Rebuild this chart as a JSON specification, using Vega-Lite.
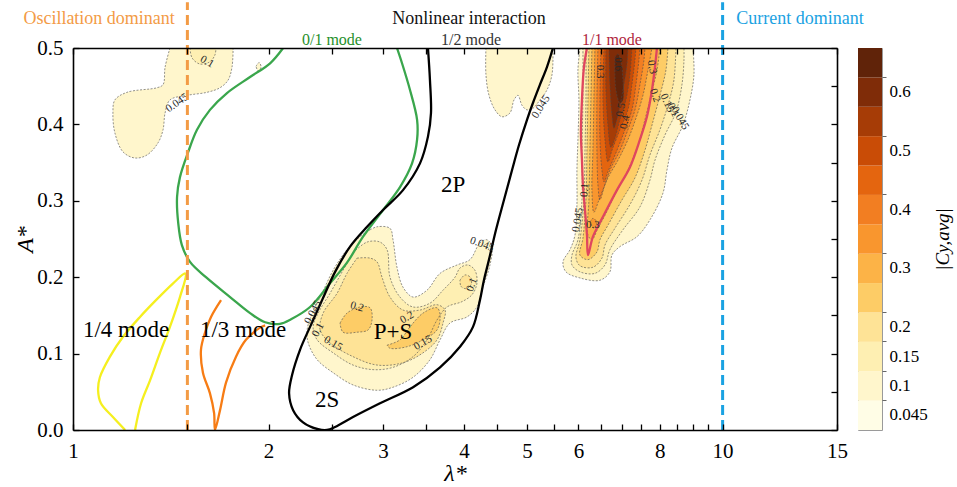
{
  "$schema": "https://vega.github.io/schema/vega-lite/v6.json",
  "padding": {"left": 13, "top": 0, "right": 2, "bottom": 2},
  "background": "white",
  "config": {
    "font": "Liberation Serif",
    "view": {"stroke": null},
    "axis": {"grid": false, "labelFont": "Liberation Serif", "titleFont": "Liberation Serif", "labelColor": "#000", "titleColor": "#000", "tickColor": "#000", "domainColor": "#000", "titleFontWeight": "normal"},
    "text": {"font": "Liberation Serif"}
  },
  "datasets": {
    "contours": [
      {"g":"tl1","lv":0.045,"x":1.410,"y":0.5},{"g":"tl1","lv":0.045,"x":1.386,"y":0.475},{"g":"tl1","lv":0.045,"x":1.376,"y":0.452},{"g":"tl1","lv":0.045,"x":1.347,"y":0.448},{"g":"tl1","lv":0.045,"x":1.211,"y":0.442},{"g":"tl1","lv":0.045,"x":1.160,"y":0.432},{"g":"tl1","lv":0.045,"x":1.152,"y":0.415},{"g":"tl1","lv":0.045,"x":1.160,"y":0.389},{"g":"tl1","lv":0.045,"x":1.194,"y":0.364},{"g":"tl1","lv":0.045,"x":1.246,"y":0.356},{"g":"tl1","lv":0.045,"x":1.300,"y":0.360},{"g":"tl1","lv":0.045,"x":1.352,"y":0.376},{"g":"tl1","lv":0.045,"x":1.376,"y":0.393},{"g":"tl1","lv":0.045,"x":1.386,"y":0.415},{"g":"tl1","lv":0.045,"x":1.410,"y":0.432},{"g":"tl1","lv":0.045,"x":1.498,"y":0.438},{"g":"tl1","lv":0.045,"x":1.608,"y":0.442},{"g":"tl1","lv":0.045,"x":1.684,"y":0.448},{"g":"tl1","lv":0.045,"x":1.733,"y":0.458},{"g":"tl1","lv":0.045,"x":1.757,"y":0.475},{"g":"tl1","lv":0.045,"x":1.764,"y":0.5},
      {"g":"tlb","lv":0.045,"x":1.913,"y":0.476},{"g":"tlb","lv":0.045,"x":1.934,"y":0.481},{"g":"tlb","lv":0.045,"x":1.948,"y":0.475},{"g":"tlb","lv":0.045,"x":1.927,"y":0.470},{"g":"tlb","lv":0.045,"x":1.913,"y":0.476},
      {"g":"mb1","lv":0.045,"x":4.322,"y":0.5},{"g":"mb1","lv":0.045,"x":4.322,"y":0.465},{"g":"mb1","lv":0.045,"x":4.369,"y":0.438},{"g":"mb1","lv":0.045,"x":4.463,"y":0.419},{"g":"mb1","lv":0.045,"x":4.575,"y":0.410},{"g":"mb1","lv":0.045,"x":4.706,"y":0.415},{"g":"mb1","lv":0.045,"x":4.774,"y":0.432},{"g":"mb1","lv":0.045,"x":4.842,"y":0.438},{"g":"mb1","lv":0.045,"x":4.911,"y":0.425},{"g":"mb1","lv":0.045,"x":4.999,"y":0.419},{"g":"mb1","lv":0.045,"x":5.105,"y":0.421},{"g":"mb1","lv":0.045,"x":5.234,"y":0.432},{"g":"mb1","lv":0.045,"x":5.365,"y":0.445},{"g":"mb1","lv":0.045,"x":5.462,"y":0.465},{"g":"mb1","lv":0.045,"x":5.481,"y":0.5},
      {"g":"ps1","lv":0.045,"x":2.866,"y":0.262},{"g":"ps1","lv":0.045,"x":2.938,"y":0.266},{"g":"ps1","lv":0.045,"x":3.076,"y":0.264},{"g":"ps1","lv":0.045,"x":3.109,"y":0.249},{"g":"ps1","lv":0.045,"x":3.153,"y":0.213},{"g":"ps1","lv":0.045,"x":3.221,"y":0.187},{"g":"ps1","lv":0.045,"x":3.338,"y":0.174},{"g":"ps1","lv":0.045,"x":3.507,"y":0.183},{"g":"ps1","lv":0.045,"x":3.673,"y":0.205},{"g":"ps1","lv":0.045,"x":3.901,"y":0.216},{"g":"ps1","lv":0.045,"x":4.084,"y":0.223},{"g":"ps1","lv":0.045,"x":4.231,"y":0.245},{"g":"ps1","lv":0.045,"x":4.338,"y":0.249},{"g":"ps1","lv":0.045,"x":4.415,"y":0.240},{"g":"ps1","lv":0.045,"x":4.384,"y":0.216},{"g":"ps1","lv":0.045,"x":4.276,"y":0.187},{"g":"ps1","lv":0.045,"x":4.186,"y":0.161},{"g":"ps1","lv":0.045,"x":4.041,"y":0.148},{"g":"ps1","lv":0.045,"x":3.805,"y":0.140},{"g":"ps1","lv":0.045,"x":3.673,"y":0.118},{"g":"ps1","lv":0.045,"x":3.544,"y":0.092},{"g":"ps1","lv":0.045,"x":3.338,"y":0.069},{"g":"ps1","lv":0.045,"x":3.109,"y":0.056},{"g":"ps1","lv":0.045,"x":2.938,"y":0.052},{"g":"ps1","lv":0.045,"x":2.698,"y":0.059},{"g":"ps1","lv":0.045,"x":2.514,"y":0.075},{"g":"ps1","lv":0.045,"x":2.376,"y":0.092},{"g":"ps1","lv":0.045,"x":2.302,"y":0.114},{"g":"ps1","lv":0.045,"x":2.293,"y":0.131},{"g":"ps1","lv":0.045,"x":2.334,"y":0.153},{"g":"ps1","lv":0.045,"x":2.418,"y":0.179},{"g":"ps1","lv":0.045,"x":2.514,"y":0.209},{"g":"ps1","lv":0.045,"x":2.641,"y":0.236},{"g":"ps1","lv":0.045,"x":2.766,"y":0.253},{"g":"ps1","lv":0.045,"x":2.866,"y":0.262},
      {"g":"rb1","lv":0.045,"x":6.031,"y":0.5},{"g":"rb1","lv":0.045,"x":5.988,"y":0.471},{"g":"rb1","lv":0.045,"x":6.009,"y":0.432},{"g":"rb1","lv":0.045,"x":5.988,"y":0.380},{"g":"rb1","lv":0.045,"x":5.967,"y":0.340},{"g":"rb1","lv":0.045,"x":5.967,"y":0.295},{"g":"rb1","lv":0.045,"x":5.925,"y":0.255},{"g":"rb1","lv":0.045,"x":5.821,"y":0.236},{"g":"rb1","lv":0.045,"x":5.679,"y":0.220},{"g":"rb1","lv":0.045,"x":5.739,"y":0.207},{"g":"rb1","lv":0.045,"x":6.031,"y":0.199},{"g":"rb1","lv":0.045,"x":6.474,"y":0.196},{"g":"rb1","lv":0.045,"x":6.707,"y":0.207},{"g":"rb1","lv":0.045,"x":6.755,"y":0.229},{"g":"rb1","lv":0.045,"x":6.949,"y":0.240},{"g":"rb1","lv":0.045,"x":7.381,"y":0.253},{"g":"rb1","lv":0.045,"x":7.729,"y":0.275},{"g":"rb1","lv":0.045,"x":8.094,"y":0.310},{"g":"rb1","lv":0.045,"x":8.209,"y":0.340},{"g":"rb1","lv":0.045,"x":8.356,"y":0.369},{"g":"rb1","lv":0.045,"x":8.689,"y":0.399},{"g":"rb1","lv":0.045,"x":8.907,"y":0.432},{"g":"rb1","lv":0.045,"x":9.034,"y":0.465},{"g":"rb1","lv":0.045,"x":9.002,"y":0.5},
      {"g":"tl2","lv":0.1,"x":1.514,"y":0.5},{"g":"tl2","lv":0.1,"x":1.525,"y":0.487},{"g":"tl2","lv":0.1,"x":1.568,"y":0.479},{"g":"tl2","lv":0.1,"x":1.625,"y":0.482},{"g":"tl2","lv":0.1,"x":1.654,"y":0.491},{"g":"tl2","lv":0.1,"x":1.660,"y":0.5},
      {"g":"ps2","lv":0.1,"x":2.698,"y":0.232},{"g":"ps2","lv":0.1,"x":2.836,"y":0.246},{"g":"ps2","lv":0.1,"x":2.969,"y":0.246},{"g":"ps2","lv":0.1,"x":3.044,"y":0.236},{"g":"ps2","lv":0.1,"x":3.076,"y":0.200},{"g":"ps2","lv":0.1,"x":3.187,"y":0.174},{"g":"ps2","lv":0.1,"x":3.338,"y":0.161},{"g":"ps2","lv":0.1,"x":3.544,"y":0.166},{"g":"ps2","lv":0.1,"x":3.712,"y":0.183},{"g":"ps2","lv":0.1,"x":3.873,"y":0.200},{"g":"ps2","lv":0.1,"x":3.942,"y":0.212},{"g":"ps2","lv":0.1,"x":4.055,"y":0.216},{"g":"ps2","lv":0.1,"x":4.157,"y":0.209},{"g":"ps2","lv":0.1,"x":4.186,"y":0.192},{"g":"ps2","lv":0.1,"x":4.113,"y":0.177},{"g":"ps2","lv":0.1,"x":3.970,"y":0.168},{"g":"ps2","lv":0.1,"x":3.765,"y":0.161},{"g":"ps2","lv":0.1,"x":3.634,"y":0.144},{"g":"ps2","lv":0.1,"x":3.507,"y":0.118},{"g":"ps2","lv":0.1,"x":3.338,"y":0.096},{"g":"ps2","lv":0.1,"x":3.109,"y":0.082},{"g":"ps2","lv":0.1,"x":2.897,"y":0.079},{"g":"ps2","lv":0.1,"x":2.698,"y":0.085},{"g":"ps2","lv":0.1,"x":2.514,"y":0.101},{"g":"ps2","lv":0.1,"x":2.376,"y":0.118},{"g":"ps2","lv":0.1,"x":2.342,"y":0.135},{"g":"ps2","lv":0.1,"x":2.384,"y":0.153},{"g":"ps2","lv":0.1,"x":2.487,"y":0.179},{"g":"ps2","lv":0.1,"x":2.604,"y":0.209},{"g":"ps2","lv":0.1,"x":2.698,"y":0.232},
      {"g":"rb2","lv":0.1,"x":6.095,"y":0.5},{"g":"rb2","lv":0.1,"x":6.095,"y":0.432},{"g":"rb2","lv":0.1,"x":6.074,"y":0.366},{"g":"rb2","lv":0.1,"x":6.074,"y":0.301},{"g":"rb2","lv":0.1,"x":5.988,"y":0.249},{"g":"rb2","lv":0.1,"x":5.863,"y":0.229},{"g":"rb2","lv":0.1,"x":5.863,"y":0.216},{"g":"rb2","lv":0.1,"x":6.031,"y":0.207},{"g":"rb2","lv":0.1,"x":6.360,"y":0.205},{"g":"rb2","lv":0.1,"x":6.590,"y":0.216},{"g":"rb2","lv":0.1,"x":6.707,"y":0.236},{"g":"rb2","lv":0.1,"x":7.024,"y":0.262},{"g":"rb2","lv":0.1,"x":7.460,"y":0.292},{"g":"rb2","lv":0.1,"x":7.729,"y":0.327},{"g":"rb2","lv":0.1,"x":7.868,"y":0.353},{"g":"rb2","lv":0.1,"x":8.151,"y":0.386},{"g":"rb2","lv":0.1,"x":8.475,"y":0.416},{"g":"rb2","lv":0.1,"x":8.658,"y":0.452},{"g":"rb2","lv":0.1,"x":8.720,"y":0.484},{"g":"rb2","lv":0.1,"x":8.720,"y":0.5},
      {"g":"ps3","lv":0.15,"x":2.737,"y":0.225},{"g":"ps3","lv":0.15,"x":2.866,"y":0.225},{"g":"ps3","lv":0.15,"x":2.938,"y":0.220},{"g":"ps3","lv":0.15,"x":2.990,"y":0.200},{"g":"ps3","lv":0.15,"x":3.076,"y":0.174},{"g":"ps3","lv":0.15,"x":3.221,"y":0.157},{"g":"ps3","lv":0.15,"x":3.421,"y":0.157},{"g":"ps3","lv":0.15,"x":3.634,"y":0.164},{"g":"ps3","lv":0.15,"x":3.739,"y":0.157},{"g":"ps3","lv":0.15,"x":3.712,"y":0.140},{"g":"ps3","lv":0.15,"x":3.634,"y":0.118},{"g":"ps3","lv":0.15,"x":3.458,"y":0.101},{"g":"ps3","lv":0.15,"x":3.221,"y":0.088},{"g":"ps3","lv":0.15,"x":2.938,"y":0.085},{"g":"ps3","lv":0.15,"x":2.698,"y":0.096},{"g":"ps3","lv":0.15,"x":2.487,"y":0.114},{"g":"ps3","lv":0.15,"x":2.401,"y":0.131},{"g":"ps3","lv":0.15,"x":2.427,"y":0.153},{"g":"ps3","lv":0.15,"x":2.550,"y":0.179},{"g":"ps3","lv":0.15,"x":2.641,"y":0.205},{"g":"ps3","lv":0.15,"x":2.737,"y":0.225},
      {"g":"ps3b","lv":0.15,"x":3.942,"y":0.196},{"g":"ps3b","lv":0.15,"x":4.013,"y":0.203},{"g":"ps3b","lv":0.15,"x":4.099,"y":0.199},{"g":"ps3b","lv":0.15,"x":4.099,"y":0.190},{"g":"ps3b","lv":0.15,"x":4.027,"y":0.185},{"g":"ps3b","lv":0.15,"x":3.956,"y":0.188},{"g":"ps3b","lv":0.15,"x":3.942,"y":0.196},
      {"g":"rb3","lv":0.15,"x":6.161,"y":0.5},{"g":"rb3","lv":0.15,"x":6.161,"y":0.432},{"g":"rb3","lv":0.15,"x":6.139,"y":0.366},{"g":"rb3","lv":0.15,"x":6.117,"y":0.301},{"g":"rb3","lv":0.15,"x":6.031,"y":0.249},{"g":"rb3","lv":0.15,"x":5.946,"y":0.226},{"g":"rb3","lv":0.15,"x":6.031,"y":0.215},{"g":"rb3","lv":0.15,"x":6.315,"y":0.213},{"g":"rb3","lv":0.15,"x":6.520,"y":0.225},{"g":"rb3","lv":0.15,"x":6.590,"y":0.242},{"g":"rb3","lv":0.15,"x":6.827,"y":0.264},{"g":"rb3","lv":0.15,"x":7.200,"y":0.295},{"g":"rb3","lv":0.15,"x":7.513,"y":0.327},{"g":"rb3","lv":0.15,"x":7.729,"y":0.360},{"g":"rb3","lv":0.15,"x":8.008,"y":0.393},{"g":"rb3","lv":0.15,"x":8.238,"y":0.425},{"g":"rb3","lv":0.15,"x":8.415,"y":0.458},{"g":"rb3","lv":0.15,"x":8.475,"y":0.5},
      {"g":"ps4a","lv":0.2,"x":2.577,"y":0.140},{"g":"ps4a","lv":0.2,"x":2.641,"y":0.153},{"g":"ps4a","lv":0.2,"x":2.766,"y":0.161},{"g":"ps4a","lv":0.2,"x":2.866,"y":0.160},{"g":"ps4a","lv":0.2,"x":2.886,"y":0.144},{"g":"ps4a","lv":0.2,"x":2.846,"y":0.131},{"g":"ps4a","lv":0.2,"x":2.737,"y":0.128},{"g":"ps4a","lv":0.2,"x":2.604,"y":0.128},{"g":"ps4a","lv":0.2,"x":2.577,"y":0.140},
      {"g":"ps4b","lv":0.2,"x":3.044,"y":0.111},{"g":"ps4b","lv":0.2,"x":3.187,"y":0.118},{"g":"ps4b","lv":0.2,"x":3.302,"y":0.135},{"g":"ps4b","lv":0.2,"x":3.458,"y":0.153},{"g":"ps4b","lv":0.2,"x":3.634,"y":0.160},{"g":"ps4b","lv":0.2,"x":3.673,"y":0.151},{"g":"ps4b","lv":0.2,"x":3.634,"y":0.131},{"g":"ps4b","lv":0.2,"x":3.458,"y":0.118},{"g":"ps4b","lv":0.2,"x":3.267,"y":0.109},{"g":"ps4b","lv":0.2,"x":3.076,"y":0.107},{"g":"ps4b","lv":0.2,"x":3.044,"y":0.111},
      {"g":"rb4","lv":0.2,"x":6.226,"y":0.5},{"g":"rb4","lv":0.2,"x":6.205,"y":0.432},{"g":"rb4","lv":0.2,"x":6.183,"y":0.366},{"g":"rb4","lv":0.2,"x":6.161,"y":0.301},{"g":"rb4","lv":0.2,"x":6.095,"y":0.251},{"g":"rb4","lv":0.2,"x":6.031,"y":0.229},{"g":"rb4","lv":0.2,"x":6.205,"y":0.223},{"g":"rb4","lv":0.2,"x":6.405,"y":0.233},{"g":"rb4","lv":0.2,"x":6.474,"y":0.249},{"g":"rb4","lv":0.2,"x":6.660,"y":0.268},{"g":"rb4","lv":0.2,"x":6.999,"y":0.301},{"g":"rb4","lv":0.2,"x":7.329,"y":0.330},{"g":"rb4","lv":0.2,"x":7.593,"y":0.366},{"g":"rb4","lv":0.2,"x":7.785,"y":0.399},{"g":"rb4","lv":0.2,"x":8.008,"y":0.438},{"g":"rb4","lv":0.2,"x":8.180,"y":0.471},{"g":"rb4","lv":0.2,"x":8.238,"y":0.5},
      {"g":"rb5","lv":0.25,"x":6.293,"y":0.5},{"g":"rb5","lv":0.25,"x":6.270,"y":0.432},{"g":"rb5","lv":0.25,"x":6.248,"y":0.366},{"g":"rb5","lv":0.25,"x":6.226,"y":0.301},{"g":"rb5","lv":0.25,"x":6.205,"y":0.255},{"g":"rb5","lv":0.25,"x":6.293,"y":0.249},{"g":"rb5","lv":0.25,"x":6.428,"y":0.264},{"g":"rb5","lv":0.25,"x":6.590,"y":0.281},{"g":"rb5","lv":0.25,"x":6.827,"y":0.308},{"g":"rb5","lv":0.25,"x":7.149,"y":0.340},{"g":"rb5","lv":0.25,"x":7.407,"y":0.373},{"g":"rb5","lv":0.25,"x":7.593,"y":0.406},{"g":"rb5","lv":0.25,"x":7.757,"y":0.438},{"g":"rb5","lv":0.25,"x":7.924,"y":0.471},{"g":"rb5","lv":0.25,"x":8.008,"y":0.5},
      {"g":"rb6","lv":0.3,"x":6.360,"y":0.5},{"g":"rb6","lv":0.3,"x":6.337,"y":0.432},{"g":"rb6","lv":0.3,"x":6.315,"y":0.366},{"g":"rb6","lv":0.3,"x":6.293,"y":0.314},{"g":"rb6","lv":0.3,"x":6.337,"y":0.285},{"g":"rb6","lv":0.3,"x":6.451,"y":0.301},{"g":"rb6","lv":0.3,"x":6.660,"y":0.330},{"g":"rb6","lv":0.3,"x":6.900,"y":0.353},{"g":"rb6","lv":0.3,"x":7.149,"y":0.380},{"g":"rb6","lv":0.3,"x":7.355,"y":0.408},{"g":"rb6","lv":0.3,"x":7.540,"y":0.438},{"g":"rb6","lv":0.3,"x":7.675,"y":0.471},{"g":"rb6","lv":0.3,"x":7.785,"y":0.5},
      {"g":"rb6b","lv":0.3,"x":6.248,"y":0.272},{"g":"rb6b","lv":0.3,"x":6.315,"y":0.277},{"g":"rb6b","lv":0.3,"x":6.405,"y":0.272},{"g":"rb6b","lv":0.3,"x":6.337,"y":0.264},{"g":"rb6b","lv":0.3,"x":6.248,"y":0.272},
      {"g":"rb7","lv":0.35,"x":6.428,"y":0.5},{"g":"rb7","lv":0.35,"x":6.405,"y":0.432},{"g":"rb7","lv":0.35,"x":6.405,"y":0.366},{"g":"rb7","lv":0.35,"x":6.428,"y":0.321},{"g":"rb7","lv":0.35,"x":6.474,"y":0.301},{"g":"rb7","lv":0.35,"x":6.567,"y":0.317},{"g":"rb7","lv":0.35,"x":6.707,"y":0.340},{"g":"rb7","lv":0.35,"x":6.949,"y":0.366},{"g":"rb7","lv":0.35,"x":7.149,"y":0.393},{"g":"rb7","lv":0.35,"x":7.329,"y":0.419},{"g":"rb7","lv":0.35,"x":7.460,"y":0.452},{"g":"rb7","lv":0.35,"x":7.566,"y":0.484},{"g":"rb7","lv":0.35,"x":7.593,"y":0.5},
      {"g":"rb8","lv":0.4,"x":6.497,"y":0.5},{"g":"rb8","lv":0.4,"x":6.474,"y":0.432},{"g":"rb8","lv":0.4,"x":6.474,"y":0.380},{"g":"rb8","lv":0.4,"x":6.520,"y":0.340},{"g":"rb8","lv":0.4,"x":6.567,"y":0.325},{"g":"rb8","lv":0.4,"x":6.660,"y":0.338},{"g":"rb8","lv":0.4,"x":6.876,"y":0.366},{"g":"rb8","lv":0.4,"x":7.074,"y":0.393},{"g":"rb8","lv":0.4,"x":7.251,"y":0.419},{"g":"rb8","lv":0.4,"x":7.355,"y":0.452},{"g":"rb8","lv":0.4,"x":7.433,"y":0.484},{"g":"rb8","lv":0.4,"x":7.460,"y":0.5},
      {"g":"rb9","lv":0.45,"x":6.567,"y":0.5},{"g":"rb9","lv":0.45,"x":6.543,"y":0.432},{"g":"rb9","lv":0.45,"x":6.590,"y":0.380},{"g":"rb9","lv":0.45,"x":6.660,"y":0.351},{"g":"rb9","lv":0.45,"x":6.755,"y":0.366},{"g":"rb9","lv":0.45,"x":6.949,"y":0.393},{"g":"rb9","lv":0.45,"x":7.149,"y":0.419},{"g":"rb9","lv":0.45,"x":7.251,"y":0.452},{"g":"rb9","lv":0.45,"x":7.329,"y":0.484},{"g":"rb9","lv":0.45,"x":7.355,"y":0.5},
      {"g":"rb10","lv":0.5,"x":6.613,"y":0.5},{"g":"rb10","lv":0.5,"x":6.613,"y":0.445},{"g":"rb10","lv":0.5,"x":6.660,"y":0.399},{"g":"rb10","lv":0.5,"x":6.731,"y":0.370},{"g":"rb10","lv":0.5,"x":6.827,"y":0.382},{"g":"rb10","lv":0.5,"x":6.949,"y":0.406},{"g":"rb10","lv":0.5,"x":7.099,"y":0.432},{"g":"rb10","lv":0.5,"x":7.200,"y":0.465},{"g":"rb10","lv":0.5,"x":7.251,"y":0.5},
      {"g":"rb11","lv":0.55,"x":6.684,"y":0.5},{"g":"rb11","lv":0.55,"x":6.707,"y":0.452},{"g":"rb11","lv":0.55,"x":6.755,"y":0.412},{"g":"rb11","lv":0.55,"x":6.803,"y":0.395},{"g":"rb11","lv":0.55,"x":6.900,"y":0.412},{"g":"rb11","lv":0.55,"x":7.024,"y":0.445},{"g":"rb11","lv":0.55,"x":7.124,"y":0.478},{"g":"rb11","lv":0.55,"x":7.149,"y":0.5},
      {"g":"rb12","lv":0.6,"x":6.827,"y":0.488},{"g":"rb12","lv":0.6,"x":6.900,"y":0.492},{"g":"rb12","lv":0.6,"x":6.974,"y":0.482},{"g":"rb12","lv":0.6,"x":7.024,"y":0.458},{"g":"rb12","lv":0.6,"x":7.024,"y":0.432},{"g":"rb12","lv":0.6,"x":6.949,"y":0.428},{"g":"rb12","lv":0.6,"x":6.851,"y":0.445},{"g":"rb12","lv":0.6,"x":6.827,"y":0.465},{"g":"rb12","lv":0.6,"x":6.827,"y":0.488}
    ],
    "modes": [
      {"m":"1/4","x":1.203,"y":0},{"m":"1/4","x":1.152,"y":0.017},{"m":"1/4","x":1.104,"y":0.035},{"m":"1/4","x":1.093,"y":0.052},{"m":"1/4","x":1.100,"y":0.069},{"m":"1/4","x":1.140,"y":0.096},{"m":"1/4","x":1.194,"y":0.122},{"m":"1/4","x":1.268,"y":0.148},{"m":"1/4","x":1.342,"y":0.170},{"m":"1/4","x":1.426,"y":0.192},{"m":"1/4","x":1.487,"y":0.205},{"m":"1/4","x":1.492,"y":0.203},{"m":"1/4","x":1.461,"y":0.174},{"m":"1/4","x":1.410,"y":0.135},{"m":"1/4","x":1.361,"y":0.101},{"m":"1/4","x":1.314,"y":0.065},{"m":"1/4","x":1.273,"y":0.035},{"m":"1/4","x":1.246,"y":0},
      {"m":"1/3","x":1.690,"y":0.170},{"m":"1/3","x":1.631,"y":0.148},{"m":"1/3","x":1.596,"y":0.127},{"m":"1/3","x":1.574,"y":0.105},{"m":"1/3","x":1.585,"y":0.075},{"m":"1/3","x":1.625,"y":0.048},{"m":"1/3","x":1.649,"y":0.022},{"m":"1/3","x":1.654,"y":0},{"m":"1/3","x":1.684,"y":0.026},{"m":"1/3","x":1.720,"y":0.062},{"m":"1/3","x":1.782,"y":0.096},{"m":"1/3","x":1.846,"y":0.118},{"m":"1/3","x":1.941,"y":0.134},{"m":"1/3","x":1.976,"y":0.137},
      {"m":"0/1","x":2.106,"y":0.5},{"m":"0/1","x":2.011,"y":0.480},{"m":"0/1","x":1.873,"y":0.462},{"m":"0/1","x":1.726,"y":0.441},{"m":"0/1","x":1.625,"y":0.419},{"m":"0/1","x":1.552,"y":0.393},{"m":"0/1","x":1.503,"y":0.363},{"m":"0/1","x":1.461,"y":0.331},{"m":"0/1","x":1.446,"y":0.305},{"m":"0/1","x":1.452,"y":0.271},{"m":"0/1","x":1.471,"y":0.242},{"m":"0/1","x":1.514,"y":0.220},{"m":"0/1","x":1.602,"y":0.200},{"m":"0/1","x":1.745,"y":0.174},{"m":"0/1","x":1.873,"y":0.153},{"m":"0/1","x":1.976,"y":0.141},{"m":"0/1","x":2.083,"y":0.139},{"m":"0/1","x":2.166,"y":0.145},{"m":"0/1","x":2.317,"y":0.161},{"m":"0/1","x":2.487,"y":0.192},{"m":"0/1","x":2.641,"y":0.219},{"m":"0/1","x":2.796,"y":0.253},{"m":"0/1","x":3.001,"y":0.288},{"m":"0/1","x":3.187,"y":0.318},{"m":"0/1","x":3.326,"y":0.349},{"m":"0/1","x":3.386,"y":0.380},{"m":"0/1","x":3.386,"y":0.406},{"m":"0/1","x":3.302,"y":0.445},{"m":"0/1","x":3.210,"y":0.480},{"m":"0/1","x":3.153,"y":0.5},
      {"m":"2P","x":3.519,"y":0.5},{"m":"2P","x":3.544,"y":0.458},{"m":"2P","x":3.557,"y":0.415},{"m":"2P","x":3.519,"y":0.384},{"m":"2P","x":3.421,"y":0.349},{"m":"2P","x":3.221,"y":0.314},{"m":"2P","x":3.001,"y":0.288},{"m":"2P","x":2.836,"y":0.266},{"m":"2P","x":2.670,"y":0.240},{"m":"2P","x":2.532,"y":0.207},{"m":"2P","x":2.418,"y":0.170},{"m":"2P","x":2.317,"y":0.135},{"m":"2P","x":2.236,"y":0.105},{"m":"2P","x":2.174,"y":0.072},{"m":"2P","x":2.151,"y":0.048},{"m":"2P","x":2.182,"y":0.026},{"m":"2P","x":2.260,"y":0.010},{"m":"2P","x":2.384,"y":0.001},{"m":"2P","x":2.461,"y":0},{"m":"2P","x":2.532,"y":0.004},{"m":"2P","x":2.698,"y":0.017},{"m":"2P","x":2.969,"y":0.035},{"m":"2P","x":3.338,"y":0.056},{"m":"2P","x":3.673,"y":0.082},{"m":"2P","x":3.942,"y":0.109},{"m":"2P","x":4.128,"y":0.135},{"m":"2P","x":4.231,"y":0.170},{"m":"2P","x":4.291,"y":0.196},{"m":"2P","x":4.369,"y":0.223},{"m":"2P","x":4.479,"y":0.262},{"m":"2P","x":4.607,"y":0.301},{"m":"2P","x":4.740,"y":0.340},{"m":"2P","x":4.859,"y":0.373},{"m":"2P","x":4.999,"y":0.406},{"m":"2P","x":5.105,"y":0.428},{"m":"2P","x":5.234,"y":0.452},{"m":"2P","x":5.365,"y":0.475},{"m":"2P","x":5.481,"y":0.5},
      {"m":"1/1","x":6.183,"y":0.5},{"m":"1/1","x":6.117,"y":0.475},{"m":"1/1","x":6.074,"y":0.432},{"m":"1/1","x":6.052,"y":0.389},{"m":"1/1","x":6.074,"y":0.353},{"m":"1/1","x":6.095,"y":0.321},{"m":"1/1","x":6.139,"y":0.288},{"m":"1/1","x":6.183,"y":0.255},{"m":"1/1","x":6.205,"y":0.229},{"m":"1/1","x":6.315,"y":0.253},{"m":"1/1","x":6.543,"y":0.279},{"m":"1/1","x":6.876,"y":0.314},{"m":"1/1","x":7.200,"y":0.344},{"m":"1/1","x":7.460,"y":0.380},{"m":"1/1","x":7.647,"y":0.410},{"m":"1/1","x":7.785,"y":0.445},{"m":"1/1","x":7.868,"y":0.475},{"m":"1/1","x":7.924,"y":0.5}
    ],
    "levelLabels": [
      {"t":"0.1","x":1.608,"y":0.482,"rot":30},{"t":"0.045","x":1.446,"y":0.428,"rot":-35},
      {"t":"0.045","x":5.253,"y":0.423,"rot":-58},
      {"t":"0.045","x":2.342,"y":0.154,"rot":-62},{"t":"0.1","x":2.384,"y":0.131,"rot":-62},{"t":"0.15","x":2.514,"y":0.113,"rot":30},{"t":"0.2","x":2.737,"y":0.161,"rot":15},{"t":"0.2","x":3.267,"y":0.147,"rot":-30},{"t":"0.15","x":3.458,"y":0.114,"rot":-30},{"t":"0.1","x":4.113,"y":0.190,"rot":-70},{"t":"0.045","x":4.261,"y":0.243,"rot":20},
      {"t":"0.3","x":6.474,"y":0.469,"rot":90},{"t":"0.6","x":6.900,"y":0.479,"rot":90},{"t":"0.5","x":6.974,"y":0.419,"rot":-80},{"t":"0.4","x":7.074,"y":0.403,"rot":-80},{"t":"0.3","x":7.785,"y":0.475,"rot":80},{"t":"0.2","x":7.868,"y":0.438,"rot":70},{"t":"0.15","x":8.209,"y":0.428,"rot":65},{"t":"0.1","x":8.386,"y":0.419,"rot":65},{"t":"0.045","x":8.597,"y":0.408,"rot":60},
      {"t":"0.045","x":5.988,"y":0.275,"rot":-80},{"t":"0.1","x":6.139,"y":0.314,"rot":-85},{"t":"0.3","x":6.315,"y":0.268,"rot":0}
    ],
    "regions": [
      {"t":"1/4 mode","x":1.207,"y":0.131},{"t":"1/3 mode","x":1.827,"y":0.131},{"t":"2P","x":3.846,"y":0.321},{"t":"P+S","x":3.109,"y":0.128},{"t":"2S","x":2.461,"y":0.039}
    ],
    "headers": [
      {"t":"Oscillation dominant","c":"osc","x":1.097,"y":0.538},{"t":"Nonlinear interaction","c":"mid","x":4.07,"y":0.538},{"t":"Current dominant","c":"cur","x":13.16,"y":0.538}
    ],
    "modeNames": [
      {"t":"0/1 mode","c":"m01","x":2.504,"y":0.5105},{"t":"1/2 mode","c":"m12","x":4.099,"y":0.5105},{"t":"1/1 mode","c":"m11","x":6.755,"y":0.5105}
    ],
    "regimes": [
      {"c":"osc","x":1.5},{"c":"cur","x":10}
    ],
    "bar": [
      {"edge":"0.045","lv":0},{"edge":"0.1","lv":0.045},{"edge":"0.15","lv":0.1},{"edge":"0.2","lv":0.15},{"edge":"0.25","lv":0.2},{"edge":"0.3","lv":0.25},{"edge":"0.35","lv":0.3},{"edge":"0.4","lv":0.35},{"edge":"0.45","lv":0.4},{"edge":"0.5","lv":0.45},{"edge":"0.55","lv":0.5},{"edge":"0.6","lv":0.55},{"edge":"top","lv":0.6}
    ]
  },
  "bounds": "flush",
  "spacing": 21,
  "resolve": {"scale": {"fill": "independent", "color": "independent", "y": "independent"}},
  "hconcat": [
    {
      "width": 764,
      "height": 382,
      "resolve": {"axis": {"x": "independent", "y": "independent"}},
      "layer": [
        {
          "layer": [
            {
              "data": {"name": "contours"},
              "mark": {"type": "line", "interpolate": "catmull-rom", "clip": true, "strokeWidth": 0, "strokeOpacity": 0},
              "encoding": {
                "x": {"field": "x", "type": "quantitative", "scale": {"type": "log", "domain": [1, 15], "nice": false},
                  "axis": {"orient": "bottom", "zindex": 1, "domain": true, "domainWidth": 1.6, "values": [1,1.5,2,2.5,3,3.5,4,4.5,5,5.5,6,6.5,7,7.5,8,8.5,9,9.5,10,15],
                    "labelExpr": "indexof([1,2,3,4,5,6,8,10,15], datum.value) >= 0 ? '' + datum.value : ''",
                    "labelFont": "Liberation Serif", "labelFontSize": 21, "labelPadding": 16, "labelFlush": false, "labelOverlap": false, "tickSize": -6, "tickWidth": 1.3,
                    "title": "λ*", "titleFont": "Liberation Serif", "titleFontSize": 24, "titleFontStyle": "italic", "titleX": 382, "titleY": 31, "titleBaseline": "top"}},
                "y": {"field": "y", "type": "quantitative", "scale": {"domain": [0, 0.5], "nice": false},
                  "axis": {"orient": "left", "zindex": 1, "domain": true, "domainWidth": 1.6, "values": [0,0.05,0.1,0.15,0.2,0.25,0.3,0.35,0.4,0.45,0.5],
                    "labelExpr": "round(datum.value*100) % 10 == 0 ? format(datum.value, '.1f') : ''",
                    "labelFont": "Liberation Serif", "labelFontSize": 21, "labelPadding": 16, "labelFlush": false, "labelOverlap": false, "tickSize": -6, "tickWidth": 1.3,
                    "title": "A*", "titleFont": "Liberation Serif", "titleFontSize": 24, "titleFontStyle": "italic", "titleX": -36, "titleY": 191, "titleBaseline": "bottom"}},
                "detail": {"field": "g"},
                "order": {"value": null},
                "fill": {"field": "lv", "type": "quantitative", "legend": null,
                  "scale": {"type": "threshold", "domain": [0.045,0.1,0.15,0.2,0.25,0.3,0.35,0.4,0.45,0.5,0.55,0.6],
                    "range": ["#fffde6","#fff6cc","#feefb2","#fee396","#fdcc66","#fcb347","#f9962e","#f27e22","#e4650f","#c94c06","#a63c06","#7f2c08","#602309"]}}
              }
            },
            {
              "data": {"name": "contours"},
              "mark": {"type": "line", "interpolate": "catmull-rom", "clip": true, "stroke": "#4a4a4a", "strokeWidth": 0.6, "strokeDash": [2, 1.5]},
              "encoding": {
                "x": {"field": "x", "type": "quantitative"},
                "y": {"field": "y", "type": "quantitative"},
                "detail": {"field": "g"},
                "order": {"value": null}
              }
            },
            {
              "data": {"name": "modes"},
              "mark": {"type": "line", "interpolate": "catmull-rom", "clip": true, "strokeWidth": 2.3},
              "encoding": {
                "x": {"field": "x", "type": "quantitative"},
                "y": {"field": "y", "type": "quantitative"},
                "detail": {"field": "m"},
                "order": {"value": null},
                "stroke": {"field": "m", "type": "nominal", "legend": null,
                  "scale": {"domain": ["1/4","1/3","0/1","2P","1/1"], "range": ["#f5ef1f","#f77c14","#3aa64c","#000000","#e0465e"]}}
              }
            },
            {
              "data": {"name": "levelLabels"},
              "mark": {"type": "text", "fontSize": 11, "color": "#2a2a2a", "baseline": "middle", "align": "center"},
              "encoding": {
                "x": {"field": "x", "type": "quantitative"},
                "y": {"field": "y", "type": "quantitative"},
                "text": {"field": "t"},
                "angle": {"field": "rot", "type": "quantitative", "scale": null}
              }
            },
            {
              "data": {"name": "regions"},
              "mark": {"type": "text", "fontSize": 23, "color": "#000", "baseline": "middle", "align": "center"},
              "encoding": {
                "x": {"field": "x", "type": "quantitative"},
                "y": {"field": "y", "type": "quantitative"},
                "text": {"field": "t"}
              }
            },
            {
              "data": {"name": "headers"},
              "mark": {"type": "text", "fontSize": 18, "baseline": "middle", "align": "center"},
              "encoding": {
                "x": {"field": "x", "type": "quantitative"},
                "y": {"field": "y", "type": "quantitative"},
                "text": {"field": "t"},
                "color": {"field": "c", "type": "nominal", "legend": null,
                  "scale": {"domain": ["osc","mid","cur","m01","m12","m11"], "range": ["#f39b45","#111111","#1aa2e2","#1f8f2a","#333333","#b01e3c"]}}
              }
            },
            {
              "data": {"name": "modeNames"},
              "mark": {"type": "text", "fontSize": 16, "baseline": "middle", "align": "center"},
              "encoding": {
                "x": {"field": "x", "type": "quantitative"},
                "y": {"field": "y", "type": "quantitative"},
                "text": {"field": "t"},
                "color": {"field": "c", "type": "nominal", "legend": null,
                  "scale": {"domain": ["osc","mid","cur","m01","m12","m11"], "range": ["#f39b45","#111111","#1aa2e2","#1f8f2a","#333333","#b01e3c"]}}
              }
            }
          ]
        },
        {
          "data": {"name": "regimes"},
          "mark": {"type": "rule", "strokeWidth": 3, "strokeDash": [10, 5]},
          "encoding": {
            "x": {"field": "x", "type": "quantitative",
              "axis": {"orient": "top", "zindex": 1, "domain": true, "domainWidth": 1.6, "values": [1,1.5,2,2.5,3,3.5,4,4.5,5,5.5,6,6.5,7,7.5,8,8.5,9,9.5,10,15], "labels": false, "tickSize": -6, "tickWidth": 1.3, "title": null}},
            "y": {"datum": 0, "type": "quantitative",
              "axis": {"orient": "right", "zindex": 1, "domain": true, "domainWidth": 1.6, "values": [0,0.05,0.1,0.15,0.2,0.25,0.3,0.35,0.4,0.45,0.5], "labels": false, "tickSize": -6, "tickWidth": 1.3, "title": null}},
            "y2": {"datum": 0.56},
            "color": {"field": "c", "type": "nominal", "legend": null,
              "scale": {"domain": ["osc","mid","cur","m01","m12","m11"], "range": ["#f39b45","#111111","#1aa2e2","#1f8f2a","#333333","#b01e3c"]}}
          }
        }
      ]
    },
    {
      "width": 24,
      "height": 382,
      "data": {"name": "bar"},
      "view": {"stroke": "#9a9a9a", "strokeWidth": 1},
      "mark": {"type": "rect"},
      "encoding": {
        "y": {"field": "edge", "type": "ordinal",
          "scale": {"domain": ["top","0.6","0.55","0.5","0.45","0.4","0.35","0.3","0.25","0.2","0.15","0.1","0.045"], "paddingInner": 0, "paddingOuter": 0},
          "axis": {"orient": "right", "bandPosition": 0, "values": ["0.6","0.5","0.4","0.3","0.2","0.15","0.1","0.045"], "labelFont": "Liberation Serif", "labelFontSize": 17, "labelPadding": 3, "labelBaseline": "middle",
            "tickSize": 4, "tickColor": "#666", "tickWidth": 1, "domain": false, "labelOverlap": false,
            "title": "|Cy,avg|", "titleFont": "Liberation Serif", "titleFontSize": 19, "titleFontStyle": "italic", "titleAngle": 270, "titleBaseline": "top", "titlePadding": 6}},
        "fill": {"field": "lv", "type": "quantitative", "legend": null,
          "scale": {"type": "threshold", "domain": [0.045,0.1,0.15,0.2,0.25,0.3,0.35,0.4,0.45,0.5,0.55,0.6],
            "range": ["#fffde6","#fff6cc","#feefb2","#fee396","#fdcc66","#fcb347","#f9962e","#f27e22","#e4650f","#c94c06","#a63c06","#7f2c08","#602309"]}}
      }
    }
  ]
}
